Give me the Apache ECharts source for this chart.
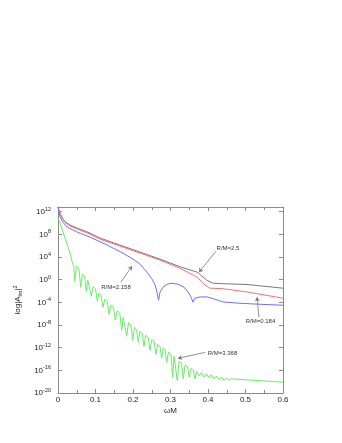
<!DOCTYPE html>
<html><head><meta charset="utf-8">
<script src="https://cdn.jsdelivr.net/npm/echarts@6/dist/echarts.min.js"></script>
<style>html,body{margin:0;padding:0;background:#fff}#c{width:342px;height:443px}</style>
</head><body><div id="c"></div>
<script>
// x: omega*M, y: log10 |A_lm|^2
const xTickValues = [0, 0.1, 0.2, 0.3, 0.4, 0.5, 0.6];
const yTickExponents = [-20, -16, -12, -8, -4, 0, 4, 8, 12];
const yTopExponent = 12.83;

const curveRM2p5 = [[0,12.83],[0.003,12.12],[0.011,10.97],[0.019,10.21],[0.032,9.65],[0.051,9.12],[0.085,8.23],[0.112,7.35],[0.165,6.11],[0.219,4.87],[0.272,3.63],[0.325,2.30],[0.371,1.33],[0.397,-0.09],[0.413,-0.62],[0.44,-0.71],[0.504,-0.85],[0.6,-1.50]];

const curveRM0p184 = [[0,12.83],[0.003,12.04],[0.011,10.88],[0.019,10.09],[0.032,9.47],[0.051,8.94],[0.085,8.05],[0.112,7.16],[0.165,5.93],[0.219,4.69],[0.272,3.45],[0.325,2.04],[0.371,0.44],[0.392,-0.97],[0.405,-1.50],[0.44,-1.59],[0.504,-2.16],[0.6,-3.27]];

const curveRM2p158 = [[0,12.83],[0.005,11.24],[0.011,10.35],[0.024,9.29],[0.051,8.41],[0.085,7.52],[0.131,6.11],[0.173,4.69],[0.2,3.63],[0.219,2.74],[0.237,1.33],[0.251,0.09],[0.259,-0.97],[0.264,-2.21],[0.268,-3.63],[0.272,-2.21],[0.28,-1.33],[0.291,-0.80],[0.304,-0.62],[0.32,-0.80],[0.336,-1.33],[0.347,-2.21],[0.355,-3.10],[0.36,-3.98],[0.365,-3.27],[0.379,-3.04],[0.397,-3.04],[0.413,-3.33],[0.44,-3.93],[0.485,-4.16],[0.539,-4.34],[0.6,-4.51]];

const curveRM3p368 = [[0,10.71],[0.004,10.35],[0.008,9.47],[0.0133,8.41],[0.0221,6.64],[0.0312,4.87],[0.0373,3.27],[0.0421,2.21],
[0.0445,-0.27],[0.0493,2.39],[0.0557,2.04],
[0.0605,-1.33],[0.0651,0.99],[0.0709,0.64],
[0.0755,-2.04],[0.0795,-0.09],[0.0848,-0.44],
[0.0888,-2.92],[0.0936,-1.24],[0.1,-1.59],
[0.1048,-3.81],[0.1093,-2.39],[0.1147,-2.74],
[0.12,-4.87],[0.1248,-3.45],[0.1312,-3.81],
[0.136,-6.11],[0.1411,-4.51],[0.1477,-4.87],
[0.1528,-7.17],[0.1579,-5.49],[0.1648,-5.93],
[0.1699,-8.94],[0.1739,-6.64],[0.1784,-6.99],
[0.1832,-10.0],[0.188,-7.61],[0.1944,-7.96],
[0.1992,-10.71],[0.2037,-8.50],[0.2096,-8.85],
[0.2141,-11.06],[0.2187,-9.12],[0.2248,-9.47],
[0.2293,-11.77],[0.2341,-9.82],[0.2405,-10.18],
[0.2453,-12.48],[0.2501,-10.62],[0.2565,-10.97],
[0.2613,-13.19],[0.2659,-11.42],[0.272,-11.77],
[0.2765,-13.89],[0.2805,-12.04],[0.2859,-12.39],
[0.2899,-14.60],[0.2947,-12.74],[0.3011,-13.10],
[0.3059,-17.26],[0.3093,-13.54],[0.3144,-13.89],
[0.3181,-17.79],[0.3229,-14.42],[0.3293,-14.69],
[0.3341,-17.52],[0.3389,-15.04],[0.3453,-15.31],
[0.3501,-17.26],[0.3547,-15.66],[0.3608,-15.93],
[0.3653,-17.52],[0.3693,-16.19],[0.3728,-16.28],
[0.3765,-16.99],[0.3819,-16.42],[0.3856,-16.51],
[0.3899,-17.17],[0.3952,-16.60],[0.3989,-16.69],
[0.4032,-17.35],[0.4085,-16.78],[0.4123,-16.87],
[0.4165,-17.52],[0.4219,-17.01],[0.4256,-17.08],
[0.4299,-17.66],[0.4352,-17.19],[0.4389,-17.26],
[0.4432,-17.75],[0.4485,-17.36],[0.4523,-17.43],
[0.4565,-17.75],[0.4632,-17.50],[0.4987,-17.66],[0.544,-17.84],[0.6,-18.09]];

// annotations: label position and arrow [from, to] in data units
const annotationLabels = ['R/M=2.5', 'R/M=2.158', 'R/M=0.184', 'R/M=3.368'];
const annotationTextAt = [[0.4533,5.58],[0.1547,-1.33],[0.54,-7.35],[0.4387,-13.01]];
const annotationArrowFrom = [[0.4213,5.04],[0.168,-0.44],[0.536,-6.64],[0.392,-12.83]];
const annotationArrowTo = [[0.376,1.33],[0.1973,2.39],[0.5307,-3.10],[0.32,-13.89]];

const FONT = 'Liberation Sans, Arial, Helvetica, sans-serif';
const frameColor = '#8a8a8a';
const textColor = '#222';

const chart = echarts.init(document.getElementById('c'), null, {renderer: 'canvas'});

function lineSeries(data, color, extra) {
  return Object.assign({
    type: 'line', data: data, showSymbol: false, symbol: 'none',
    lineStyle: {color: color, width: 1}, itemStyle: {color: color},
    silent: true, animation: false, z: 3
  }, extra || {});
}

const frameLine = {show: true, onZero: false, lineStyle: {color: frameColor, width: 1}};
const tickStyle = {show: true, inside: true, length: 4, lineStyle: {color: frameColor}};
const minorStyle = {show: true, splitNumber: 2, length: 3, lineStyle: {color: frameColor}};

const option = {
  animation: false,
  backgroundColor: '#fff',
  textStyle: {fontFamily: FONT},
  grid: {left: 58, right: 59, top: 207, bottom: 50, containLabel: false},
  xAxis: [{
    type: 'value', min: 0, max: 0.6, interval: 0.1, position: 'bottom',
    axisLine: frameLine, axisTick: tickStyle, minorTick: minorStyle,
    splitLine: {show: false},
    axisLabel: {color: textColor, fontSize: 8, margin: 3, fontFamily: FONT,
      formatter: v => { const t = xTickValues.find(a => Math.abs(a - v) < 1e-9); return t === undefined ? '' : String(t); }},
    name: 'ωM', nameLocation: 'middle', nameGap: 14,
    nameTextStyle: {color: textColor, fontSize: 8, fontFamily: FONT}
  }, {
    type: 'value', min: 0, max: 0.6, interval: 0.1, position: 'top',
    axisLine: frameLine, axisTick: tickStyle, minorTick: minorStyle,
    splitLine: {show: false}, axisLabel: {show: false}
  }],
  yAxis: [{
    type: 'value', min: -20, max: yTopExponent, interval: 4, position: 'left',
    axisLine: frameLine, axisTick: tickStyle,
    splitLine: {show: false},
    axisLabel: {
      margin: 7, fontFamily: FONT, color: textColor, showMaxLabel: false,
      formatter: v => yTickExponents.indexOf(Math.round(v)) >= 0 && Math.abs(v - Math.round(v)) < 1e-9 ? '{b|10}{s|' + Math.round(v) + '}' : '',
      rich: {
        b: {fontSize: 8, color: textColor, fontFamily: FONT},
        s: {fontSize: 5.5, color: textColor, fontFamily: FONT, padding: [0, 0, 5, 0]}
      }
    },
    name: '{a|log|A}{sub|lm}{a||}{sup|2}', nameLocation: 'middle', nameGap: 26, nameRotate: 90,
    nameTextStyle: {
      rich: {
        a: {fontSize: 8, color: textColor, fontFamily: FONT},
        sub: {fontSize: 5.5, color: textColor, fontFamily: FONT, padding: [4, 0, 0, 0]},
        sup: {fontSize: 5.5, color: textColor, fontFamily: FONT, padding: [0, 0, 5, 0]}
      }
    }
  }, {
    type: 'value', min: -20, max: yTopExponent, interval: 4, position: 'right',
    axisLine: frameLine, axisTick: tickStyle,
    splitLine: {show: false}, axisLabel: {show: false}
  }],
  series: [
    lineSeries(curveRM2p5, '#7a7a7a', {
      markLine: {
        silent: true, animation: false, symbol: ['none', 'arrow'], symbolSize: 4,
        label: {show: false},
        lineStyle: {color: '#777', width: 0.8, type: 'solid'},
        data: annotationArrowFrom.map((f, i) => [{coord: f}, {coord: annotationArrowTo[i]}])
      },
      markPoint: {
        silent: true, animation: false, symbol: 'rect', symbolSize: 1,
        itemStyle: {color: 'rgba(0,0,0,0)'},
        label: {show: true, position: 'inside', formatter: p => p.name, fontSize: 6, color: '#333', fontFamily: FONT},
        data: annotationTextAt.map((c, i) => ({coord: c, name: annotationLabels[i]}))
      }
    }),
    lineSeries(curveRM0p184, '#ff6f6f'),
    lineSeries(curveRM2p158, '#6f6fff'),
    lineSeries(curveRM3p368, '#66f066')
  ]
};
chart.setOption(option);
</script>
</body></html>
